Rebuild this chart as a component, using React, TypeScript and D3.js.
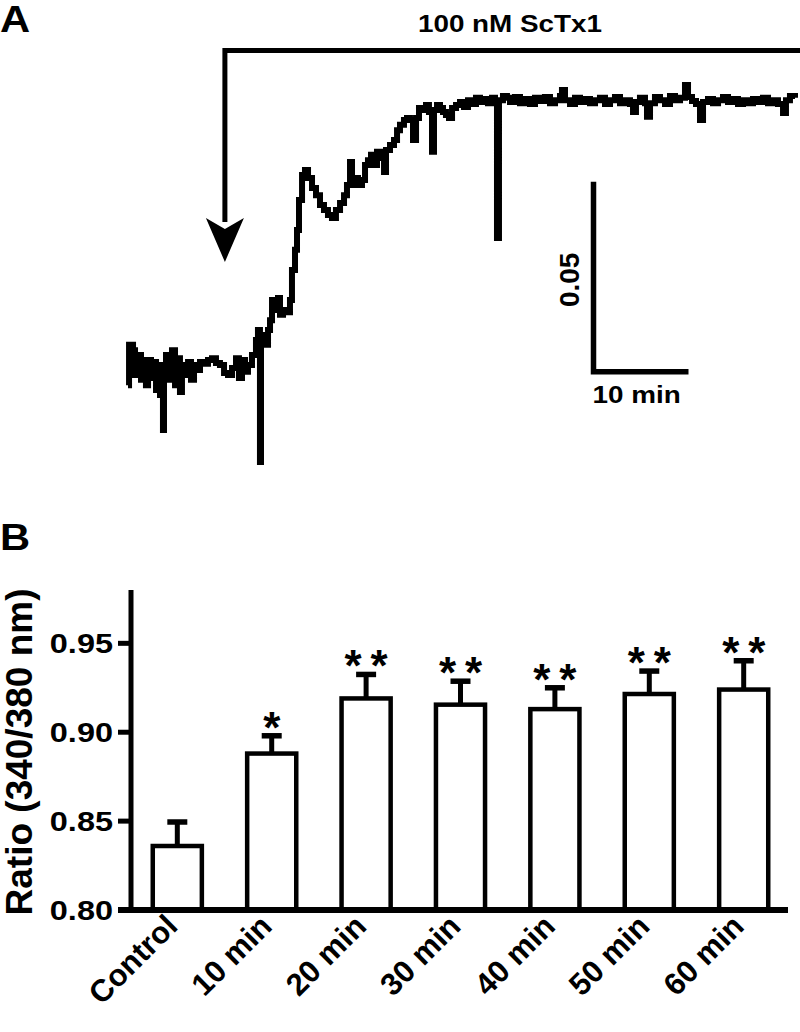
import React from 'react';
import * as d3 from 'd3';

// ---------- Panel A: ratio trace (time in min, 340/380 ratio) ----------
const traceTime = [
  0.0, 0.11, 0.53, 0.74, 1.05, 1.37, 1.58, 1.89, 2.11, 2.42, 2.63, 2.95, 3.16, 3.37, 3.58, 3.68, 3.79, 4.0, 4.32, 4.63,
  4.95, 5.16, 5.47, 5.68, 6.0, 6.32, 6.63, 6.95, 7.26, 7.58, 8.0, 8.42, 8.84, 9.26, 9.68, 10.11, 10.53, 10.95, 11.37, 11.68,
  12.0, 12.32, 12.63, 13.05, 13.47, 13.68, 13.89, 14.0, 14.21, 14.53, 14.74, 14.95, 15.16, 15.47, 15.79, 16.0, 16.32, 16.74, 17.05, 17.26,
  17.58, 17.79, 18.0, 18.32, 18.63, 18.95, 19.37, 19.79, 20.21, 20.63, 21.05, 21.47, 21.89, 22.32, 22.74, 23.05, 23.37, 23.58, 23.89, 24.21,
  24.63, 24.95, 25.26, 25.58, 25.89, 26.21, 26.53, 26.95, 27.16, 27.58, 28.0, 28.32, 28.63, 29.05, 29.37, 29.68, 30.0, 30.32, 30.63, 31.05,
  31.37, 31.68, 32.0, 32.21, 32.53, 32.84, 33.16, 33.47, 33.79, 34.11, 34.53, 34.95, 35.37, 35.79, 36.21, 36.63, 37.05, 37.47, 37.89, 38.32,
  38.63, 38.84, 39.05, 39.47, 39.89, 40.21, 40.74, 41.26, 41.79, 42.32, 42.84, 43.37, 43.89, 44.42, 44.95, 45.47, 45.68, 46.0, 46.53, 47.05,
  47.58, 48.11, 48.63, 49.16, 49.68, 50.21, 50.74, 51.26, 51.79, 52.32, 52.84, 53.16, 53.47, 53.89, 54.42, 54.63, 54.95, 55.47, 56.0, 56.53,
  57.05, 57.58, 58.11, 58.63, 58.95, 59.37, 59.79, 60.21, 60.53, 61.05, 61.58, 62.11, 62.63, 63.16, 63.68, 64.21, 64.74, 65.26, 65.79, 66.32,
  66.84, 67.37, 67.89, 68.42, 68.95, 69.26, 69.68, 70.21,
];
const traceRatio = [
  0.8347, 0.8453, 0.8439, 0.8374, 0.8426, 0.8361, 0.8413, 0.8347, 0.8413, 0.8366, 0.8408, 0.8334, 0.84, 0.8321, 0.8387, 0.8229, 0.8374, 0.8426, 0.8361, 0.8439,
  0.8347, 0.8418, 0.8329, 0.84, 0.8374, 0.8408, 0.8361, 0.84, 0.8387, 0.8408, 0.8403, 0.8413, 0.8418, 0.8405, 0.84, 0.8379, 0.8374, 0.8392, 0.8418, 0.8366,
  0.8413, 0.8382, 0.84, 0.8426, 0.8466, 0.8492, 0.8145, 0.8466, 0.8479, 0.8453, 0.8492, 0.8518, 0.8571, 0.8545, 0.8576, 0.8532, 0.8545, 0.8539, 0.8571, 0.865,
  0.8703, 0.8755, 0.8834, 0.89, 0.8913, 0.8892, 0.8866, 0.8847, 0.8821, 0.8808, 0.8795, 0.8787, 0.8808, 0.8826, 0.8847, 0.8874, 0.8934, 0.8874, 0.8892, 0.8874,
  0.8887, 0.8926, 0.8939, 0.8953, 0.8926, 0.8961, 0.8945, 0.8908, 0.8966, 0.8979, 0.8992, 0.9018, 0.9032, 0.9045, 0.905, 0.9045, 0.8992, 0.905, 0.9076, 0.9071,
  0.9084, 0.9066, 0.8961, 0.9071, 0.9084, 0.9076, 0.9066, 0.9058, 0.905, 0.9076, 0.9084, 0.9092, 0.9079, 0.9097, 0.9087, 0.9103, 0.9092, 0.91, 0.9089, 0.9103,
  0.9097, 0.8734, 0.9097, 0.9108, 0.9103, 0.9092, 0.9105, 0.9089, 0.91, 0.9087, 0.9103, 0.9095, 0.9105, 0.9089, 0.9097, 0.9108, 0.9124, 0.9097, 0.9087, 0.9103,
  0.9092, 0.91, 0.9089, 0.9097, 0.9103, 0.9087, 0.9097, 0.9105, 0.9089, 0.9097, 0.9087, 0.9066, 0.9092, 0.9103, 0.9089, 0.9053, 0.9089, 0.9105, 0.9097, 0.9087,
  0.9108, 0.9097, 0.9103, 0.9137, 0.9105, 0.9095, 0.9087, 0.9045, 0.9092, 0.91, 0.9089, 0.9097, 0.9105, 0.9092, 0.91, 0.9087, 0.9097, 0.9089, 0.91, 0.9092,
  0.9103, 0.9089, 0.9097, 0.9087, 0.9063, 0.9097, 0.9108, 0.9103,
];
const applicationTime = 10.2; // 100 nM ScTx1 added
const treatmentLabel = '100 nM ScTx1';
const scaleBarTime = 49; // min, left end of scale bar
const scaleBarRatio = 0.8382; // ratio at corner of scale bar
const scaleBarDt = 10; // min
const scaleBarDv = 0.05; // ratio

// ---------- Panel B: bar chart ----------
const categories = ['Control', '10 min', '20 min', '30 min', '40 min', '50 min', '60 min'];
const means = [0.836, 0.888, 0.919, 0.9155, 0.913, 0.9215, 0.924];
const sems = [0.0135, 0.01, 0.0135, 0.0132, 0.012, 0.0129, 0.0162];
const stars = ['', '*', '**', '**', '**', '**', '**'];
const yTicks = [0.8, 0.85, 0.9, 0.95];
const yTickLabels = ['0.80', '0.85', '0.90', '0.95'];
const yTitle = 'Ratio (340/380 nm)';

const FONT = "'Liberation Sans', Arial, Helvetica, sans-serif";
const SX = 1.16;

export default function App() {
  // panel A scales
  const xA = d3.scaleLinear().domain([0, 70]).range([128, 793]);
  const yA = d3.scaleLinear().domain([0.8, 0.92]).range([517, 61]);
  const pts: [number, number][] = traceTime.map((t, i) => [t, traceRatio[i]]);
  const line = d3
    .line<[number, number]>()
    .x((d) => xA(d[0]))
    .y((d) => yA(d[1]))
    .curve(d3.curveStepAfter);

  const arrowX = xA(applicationTime);
  const bracketY = 50.5;
  const tipY = 262;

  const sbX0 = xA(scaleBarTime);
  const sbX1 = xA(scaleBarTime + scaleBarDt);
  const sbY0 = yA(scaleBarRatio);
  const sbY1 = yA(scaleBarRatio + scaleBarDv);

  // panel B scales
  const xB = d3.scaleBand<string>().domain(categories).range([132, 789]).paddingInner(0.48).paddingOuter(0.22);
  const yB = d3.scaleLinear().domain([0.8, 0.98]).range([910, 590]);
  const bw = xB.bandwidth();
  const axisX = 131;

  const starText = (x: number, y: number, k: string) => (
    <text key={k} x={x} y={y} fontSize={44} fontWeight="bold" textAnchor="middle">
      *
    </text>
  );

  return (
    <svg
      width={800}
      height={1032}
      style={{ position: 'absolute', left: 0, top: 0, background: '#fff' }}
      fontFamily={FONT}
    >
      <rect x={0} y={0} width={800} height={1032} fill="#fff" />
      {/* ---------------- Panel A ---------------- */}
      <text transform={`translate(0,32) scale(${SX},1)`} fontSize={36} fontWeight="bold">
        A
      </text>
      <text transform={`translate(510,32) scale(${SX},1)`} fontSize={24} fontWeight="bold" textAnchor="middle">
        {treatmentLabel}
      </text>
      {/* bracket + arrow */}
      <path
        d={`M${arrowX},${tipY - 40} L${arrowX},${bracketY} L800,${bracketY}`}
        fill="none"
        stroke="#000"
        strokeWidth={5}
        strokeLinejoin="miter"
      />
      <path
        d={`M${arrowX},${tipY} L${arrowX - 19},${tipY - 44} L${arrowX},${tipY - 33} L${arrowX + 19},${tipY - 44} Z`}
        fill="#000"
      />
      {/* trace */}
      <path d={line(pts) || ''} fill="none" stroke="#000" strokeWidth={6} strokeLinejoin="miter" />
      {/* scale bar */}
      <path
        d={`M${sbX0},${sbY1} L${sbX0},${sbY0} L${sbX1},${sbY0}`}
        fill="none"
        stroke="#000"
        strokeWidth={5.5}
        strokeLinejoin="miter"
      />
      <text
        transform={`translate(${sbX0 - 15},${(sbY0 + sbY1) / 2 + 3}) rotate(-90)`}
        fontSize={28}
        fontWeight="bold"
        textAnchor="middle"
      >
        0.05
      </text>
      <text transform={`translate(${sbX0 - 1},${sbY0 + 31}) scale(${SX},1)`} fontSize={24} fontWeight="bold">
        10 min
      </text>

      {/* ---------------- Panel B ---------------- */}
      <text transform={`translate(0,550) scale(${SX},1)`} fontSize={36} fontWeight="bold">
        B
      </text>
      <text transform={`translate(32,${(yB(0.8) + yB(0.98)) / 2 + 2}) rotate(-90)`} fontSize={37} fontWeight="bold" textAnchor="middle">
        {yTitle}
      </text>

      {/* bars */}
      {categories.map((c, i) => {
        const x = xB(c)!;
        const cx = x + bw / 2;
        const top = yB(means[i]);
        const errTop = yB(means[i] + sems[i]);
        return (
          <g key={c}>
            <line x1={cx} x2={cx} y1={top} y2={errTop} stroke="#000" strokeWidth={5} />
            <line x1={cx - 10} x2={cx + 10} y1={errTop} y2={errTop} stroke="#000" strokeWidth={5.5} />
            <rect x={x} y={top} width={bw} height={yB(0.8) - top} fill="#fff" stroke="#000" strokeWidth={4.5} />
            {stars[i] === '*' && starText(cx, errTop + 7, 's')}
            {stars[i] === '**' && (
              <g>
                {starText(cx - 13, errTop + 7, 'a')}
                {starText(cx + 13, errTop + 7, 'b')}
              </g>
            )}
            <text
              transform={`translate(${cx + 2},${yB(0.8) + 18}) rotate(-45)`}
              fontSize={31}
              fontWeight="bold"
              textAnchor="end"
            >
              {c}
            </text>
          </g>
        );
      })}

      {/* axes */}
      <line x1={axisX} x2={axisX} y1={yB(0.98)} y2={yB(0.8) + 3} stroke="#000" strokeWidth={5} />
      <line x1={118} x2={788} y1={yB(0.8)} y2={yB(0.8)} stroke="#000" strokeWidth={6} />
      {yTicks.map((t, i) => (
        <g key={t}>
          <line x1={118} x2={axisX} y1={yB(t)} y2={yB(t)} stroke="#000" strokeWidth={5} />
          <text
            transform={`translate(113,${yB(t) + 10}) scale(${SX},1)`}
            fontSize={28}
            fontWeight="bold"
            textAnchor="end"
          >
            {yTickLabels[i]}
          </text>
        </g>
      ))}
    </svg>
  );
}
